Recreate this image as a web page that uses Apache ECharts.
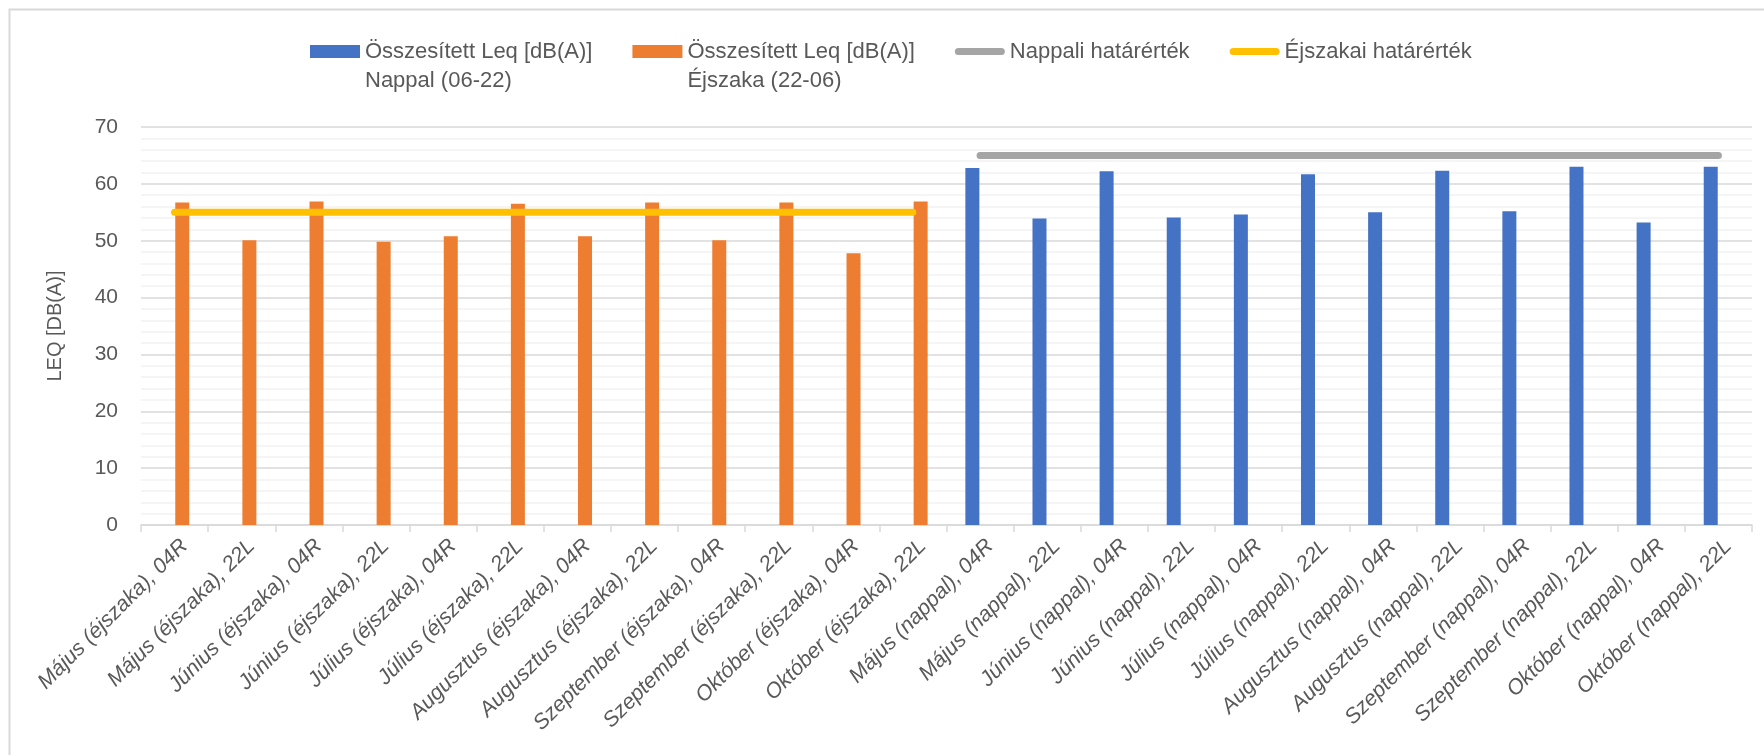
<!DOCTYPE html>
<html>
<head>
<meta charset="utf-8">
<script src="https://cdn.jsdelivr.net/npm/echarts@6/dist/echarts.min.js"></script>
<style>
    html, body { margin: 0; padding: 0; background: #fff; }
    #chart { width: 1764px; height: 755px; }
</style>
</head>
<body>
<div id="chart"></div>
<script>
    "use strict";
    var nightCategories = [
        'Május (éjszaka), 04R', 'Május (éjszaka), 22L',
        'Június (éjszaka), 04R', 'Június (éjszaka), 22L',
        'Július (éjszaka), 04R', 'Július (éjszaka), 22L',
        'Augusztus (éjszaka), 04R', 'Augusztus (éjszaka), 22L',
        'Szeptember (éjszaka), 04R', 'Szeptember (éjszaka), 22L',
        'Október (éjszaka), 04R', 'Október (éjszaka), 22L'
    ];
    var dayCategories = [
        'Május (nappal), 04R', 'Május (nappal), 22L',
        'Június (nappal), 04R', 'Június (nappal), 22L',
        'Július (nappal), 04R', 'Július (nappal), 22L',
        'Augusztus (nappal), 04R', 'Augusztus (nappal), 22L',
        'Szeptember (nappal), 04R', 'Szeptember (nappal), 22L',
        'Október (nappal), 04R', 'Október (nappal), 22L'
    ];
    // Összesített Leq [dB(A)] értékek
    var nightValues = [56.7, 50.1, 56.9, 49.8, 50.8, 56.5, 50.8, 56.7, 50.1, 56.7, 47.8, 56.9];
    var dayValues = [62.8, 53.9, 62.2, 54.1, 54.6, 61.7, 55.0, 62.3, 55.2, 63.0, 53.2, 63.0];
    // határértékek
    var nightLimit = [55, 55, 55, 55, 55, 55, 55, 55, 55, 55, 55, 55];
    var dayLimit = [65, 65, 65, 65, 65, 65, 65, 65, 65, 65, 65, 65];
    var yTicks = [0, 10, 20, 30, 40, 50, 60, 70];

    var empty = nightCategories.map(function () { return null; });
    var categories = nightCategories.concat(dayCategories);

    var textColor = '#595959';
    var fontFamily = '"Liberation Sans", Arial, sans-serif';
    // lekerekített vonal ikon a legendához
    var lineIcon = 'path://M3.5,0 H46.5 A3.5,3.5 0 0 1 46.5,7 H3.5 A3.5,3.5 0 0 1 3.5,0 Z';

    var myChart = echarts.init(document.getElementById('chart'), null, {renderer: 'canvas'});
    myChart.setOption({
        backgroundColor: '#ffffff',
        textStyle: {fontFamily: fontFamily, color: textColor},
        graphic: [{
            type: 'rect',
            left: 7, top: 7,
            shape: {width: 1800, height: 800},
            style: {fill: 'none', stroke: '#d9d9d9', lineWidth: 2},
            silent: true
        }],
        legend: {
            left: 305,
            top: 3,
            itemWidth: 50,
            itemHeight: 13,
            itemGap: 40,
            textStyle: {fontSize: 22, color: textColor, lineHeight: 29, fontFamily: fontFamily},
            // kétsoros nevek: az ikon az első sorhoz igazodjon
            formatter: function (name) {
                return name.indexOf('\n') >= 0 ? ' \n' + name : name;
            },
            data: [
                {name: 'Összesített Leq [dB(A)]\nNappal (06-22)', icon: 'rect'},
                {name: 'Összesített Leq [dB(A)]\nÉjszaka (22-06)', icon: 'rect'},
                {name: 'Nappali határérték', icon: lineIcon, itemStyle: {color: '#A5A5A5'}},
                {name: 'Éjszakai határérték', icon: lineIcon, itemStyle: {color: '#FFC000'}}
            ]
        },
        grid: {left: 141, right: 12, top: 127, bottom: 230},
        xAxis: {
            type: 'category',
            data: categories,
            axisLine: {lineStyle: {color: '#d9d9d9', width: 1.5}},
            axisTick: {show: true, length: 7, lineStyle: {color: '#d9d9d9', width: 1.5}},
            axisLabel: {
                interval: 0,
                rotate: 45,
                margin: 8,
                verticalAlign: 'top',
                padding: [3, 0, 0, 0],
                fontSize: 21.5,
                fontStyle: 'italic',
                color: textColor
            }
        },
        yAxis: {
            type: 'value',
            min: yTicks[0],
            max: yTicks[yTicks.length - 1],
            interval: 10,
            name: 'LEQ [DB(A)]',
            nameLocation: 'middle',
            nameRotate: 90,
            nameGap: 76,
            nameTextStyle: {fontSize: 20, color: textColor},
            axisLine: {show: false},
            axisTick: {show: false},
            axisLabel: {fontSize: 21, color: textColor, margin: 23},
            splitLine: {lineStyle: {color: '#d9d9d9', width: 1.5}},
            minorTick: {show: false, splitNumber: 5},
            minorSplitLine: {show: true, lineStyle: {color: '#f2f2f2', width: 1.5}}
        },
        series: [
            {
                name: 'Összesített Leq [dB(A)]\nNappal (06-22)',
                type: 'bar',
                barWidth: 14,
                barGap: '10%',
                itemStyle: {color: '#4472C4'},
                data: empty.concat(dayValues)
            },
            {
                name: 'Összesített Leq [dB(A)]\nÉjszaka (22-06)',
                type: 'bar',
                barWidth: 14,
                barGap: '10%',
                itemStyle: {color: '#ED7D31'},
                data: nightValues.concat(empty)
            },
            {
                name: 'Nappali határérték',
                type: 'line',
                symbol: 'none',
                z: 5,
                lineStyle: {color: '#A5A5A5', width: 7, cap: 'round'},
                itemStyle: {color: '#A5A5A5'},
                data: empty.concat(dayLimit)
            },
            {
                name: 'Éjszakai határérték',
                type: 'line',
                symbol: 'none',
                z: 5,
                lineStyle: {color: '#FFC000', width: 7, cap: 'round'},
                itemStyle: {color: '#FFC000'},
                data: nightLimit.concat(empty)
            }
        ]
    });
</script>
</body>
</html>
